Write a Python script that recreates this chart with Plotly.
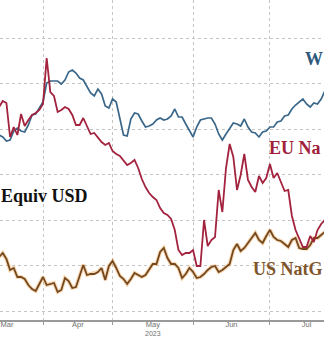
import pandas as pd
import plotly.graph_objects as go

# ---- data (y in chart units, axis labels not visible) ----
holidays = ["2023-04-07", "2023-05-29", "2023-06-19", "2023-07-04"]
dates = [d for d in pd.bdate_range("2023-03-16", "2023-07-25") if d.strftime("%Y-%m-%d") not in holidays]

wti = [185, 183, 179, 180, 189, 192, 189, 188, 195, 205,
       206, 212, 218, 237, 239, 239, 239, 236, 240, 248,
       250, 247, 242, 240, 233, 227, 224, 231, 226, 214,
       212, 221, 218, 200, 185, 184, 201, 207, 206, 199,
       193, 194, 196, 200, 202, 200, 201, 204, 211, 203,
       203, 196, 189, 183, 193, 200, 201, 202, 202, 196,
       186, 180, 186, 192, 197, 196, 194, 201, 193, 188,
       187, 183, 188, 189, 193, 193, 198, 199, 204, 205,
       211, 215, 218, 221, 216, 213, 217, 216, 221, 229]

eu_natgas = [213, 219, 217, 183, 193, 185, 206, 194, 200, 205,
             207, 210, 216, 262, 228, 224, 208, 210, 213, 211,
             205, 195, 195, 202, 194, 186, 187, 182, 178, 175,
             177, 169, 166, 164, 160, 155, 157, 160, 152, 141,
             133, 127, 123, 120, 112, 107, 105, 101, 90, 70,
             65, 67, 67, 70, 54, 54, 100, 74, 80, 83,
             130, 108, 152, 176, 163, 130, 145, 166, 140, 133,
             128, 144, 137, 142, 156, 142, 147, 137, 129, 130,
             104, 90, 81, 73, 73, 84, 78, 90, 96, 100]

us_natgas = [63, 67, 61, 50, 52, 43, 43, 41, 35, 31,
             29, 36, 43, 35, 36, 37, 28, 30, 42, 39,
             32, 33, 44, 55, 45, 46, 46, 48, 52, 40,
             54, 59, 52, 44, 41, 36, 41, 47, 45, 43,
             45, 50, 56, 56, 68, 72, 62, 56, 56, 52,
             42, 46, 52, 48, 42, 43, 46, 50, 53, 54,
             48, 50, 53, 56, 70, 76, 69, 72, 77, 82,
             87, 80, 77, 84, 90, 83, 80, 79, 76, 73,
             80, 82, 72, 71, 71, 75, 82, 82, 85, 88]

month_labels = ["Mar", "Apr", "May", "Jun", "Jul"]
month_label_pos = ["2023-03-20 04:00", "2023-04-17 12:00", "2023-05-16", "2023-06-15 12:00", "2023-07-18"]
month_bounds = ["2023-03-01", "2023-04-03", "2023-05-01", "2023-06-01", "2023-07-03", "2023-08-01"]
year_label = "2023"

fig = go.Figure()
fig.add_trace(go.Scatter(x=dates, y=us_natgas, mode="lines",
                         line=dict(color="rgba(240,170,90,0.45)", width=4),
                         hoverinfo="skip", showlegend=False))
fig.add_trace(go.Scatter(x=dates, y=us_natgas, mode="lines", name="US NatGas",
                         line=dict(color="#74481f", width=1.8), showlegend=False))
fig.add_trace(go.Scatter(x=dates, y=wti, mode="lines", name="WTI",
                         line=dict(color="#3a6789", width=1.7), showlegend=False))
fig.add_trace(go.Scatter(x=dates, y=eu_natgas, mode="lines", name="EU NatGas",
                         line=dict(color="#a3223d", width=1.8), showlegend=False))

serif = "Liberation Serif, Times New Roman, serif"
# (text, x px, anchor, y px of cap middle, colour)
anns = [
    ("Equiv USD", 0, "left", 195.6, "#111111"),
    ("EU Na", 268, "left", 148, "#a0203a"),
    ("US NatG", 324, "right", 269, "#80552c"),
    ("W", 324, "right", 59, "#2f5a7e"),
]
for txt, xp, xa, yp, col in anns:
    fig.add_annotation(text=txt, xref="paper", yref="paper",
                       x=xp / 324, y=(320 - yp) / 320,
                       xanchor=xa, yanchor="middle", showarrow=False, borderpad=0,
                       font=dict(family=serif, size=18, color=col, weight="bold"))

fig.add_annotation(text=year_label, xref="x", yref="paper",
                   x="2023-05-16", y=(320 - 333.6) / 320,
                   xanchor="center", yanchor="middle", showarrow=False, borderpad=0,
                   font=dict(family="Liberation Sans, Arial, sans-serif", size=7, color="#707070"))

fig.update_layout(
    width=324, height=338,
    margin=dict(l=0, r=0, t=0, b=18),
    paper_bgcolor="white", plot_bgcolor="white",
    showlegend=False,
    xaxis=dict(
        type="date",
        range=["2023-03-16 06:00", "2023-07-24 18:30"],
        rangebreaks=[dict(bounds=["sat", "mon"]), dict(values=holidays)],
        tickmode="array", tickvals=month_label_pos, ticktext=month_labels,
        ticks="", showgrid=False, ticklabelstandoff=-4,
        tickfont=dict(family="Liberation Sans, Arial, sans-serif", size=7.5, color="#707070"),
        showline=True, linecolor="#999999", linewidth=2,
        zeroline=False, automargin=False,
        minor=dict(tickmode="array", tickvals=month_bounds, showgrid=True,
                   gridcolor="#c4c4c4", griddash="dot", gridwidth=1,
                   ticks="outside", ticklen=3, tickcolor="#999999"),
    ),
    yaxis=dict(
        range=[0, 320], tick0=9, dtick=45.5,
        showgrid=True, gridcolor="#c4c4c4", griddash="dot", gridwidth=1,
        showticklabels=False, zeroline=False, showline=False, ticks="",
        automargin=False,
    ),
)

fig.write_html("out.html")
